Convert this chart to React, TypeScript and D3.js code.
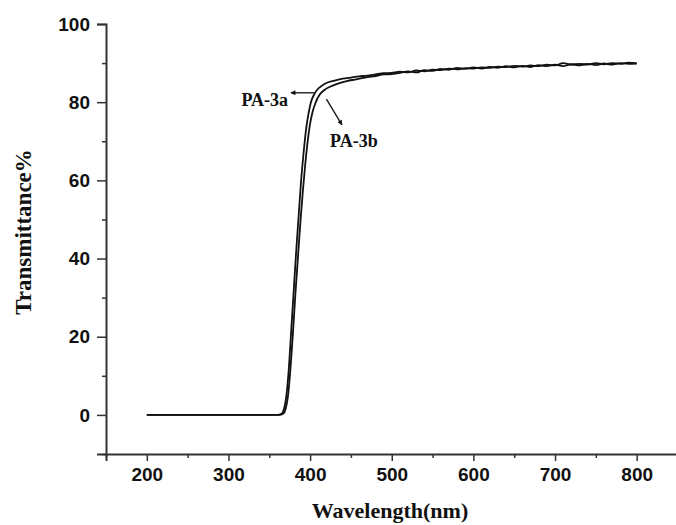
import React, { useEffect, useRef } from 'react';
import * as d3 from 'd3';

// wavelength (nm) for each series
const wlA = [200, 360, 365, 368, 371, 374, 377, 380, 383, 386, 389, 392, 395, 398, 401, 405, 410, 415, 420, 430, 440, 450, 460, 470, 480, 490, 500, 510, 520, 530, 540, 550, 560, 570, 580, 590, 600, 610, 620, 630, 640, 650, 660, 670, 680, 690, 700, 710, 720, 730, 740, 750, 760, 770, 780, 790, 800];
const tA = [0, 0, 0.3, 1.5, 5, 12, 22, 32, 42, 51, 60, 67, 73, 77, 80, 82, 83.5, 84.3, 84.9, 85.5, 86, 86.3, 86.6, 86.8, 87.1, 87.4, 87.5, 87.8, 87.6, 88.1, 87.9, 88.3, 88.2, 88.6, 88.4, 88.7, 88.6, 88.9, 88.8, 89.1, 89, 89.3, 89.1, 89.4, 89.2, 89.6, 89.4, 90, 89.6, 89.8, 89.6, 90, 89.7, 90, 89.8, 90.1, 89.9];

const wlB = [200, 362, 367, 370, 373, 376, 379, 382, 385, 388, 391, 394, 397, 400, 403, 407, 412, 418, 425, 435, 445, 455, 465, 470, 480, 490, 500, 510, 520, 530, 540, 550, 560, 570, 580, 590, 600, 610, 620, 630, 640, 650, 660, 670, 680, 690, 700, 710, 720, 730, 740, 750, 760, 770, 780, 790, 800];
const tB = [0, 0, 0.3, 1.5, 5, 12, 21, 31, 40, 49, 57, 64, 70, 74.5, 77.5, 80, 82, 83.2, 84, 84.8, 85.4, 85.8, 86.2, 86.4, 86.7, 87.1, 87.2, 87.5, 87.9, 87.6, 88.2, 88, 88.5, 88.3, 88.8, 88.5, 88.9, 88.6, 89, 88.8, 89.2, 88.9, 89.3, 89, 89.5, 89.2, 89.6, 89.2, 89.7, 89.4, 89.8, 89.5, 89.9, 89.6, 90, 89.8, 89.9];

const xMajor = [200, 300, 400, 500, 600, 700, 800];
const xMinor = [150, 250, 350, 450, 550, 650, 750];
const yMajor = [0, 20, 40, 60, 80, 100];
const yMinor = [-10, 10, 30, 50, 70, 90];

const App = () => {
  const ref = useRef<SVGSVGElement | null>(null);

  useEffect(() => {
    if (!ref.current) return;
    const svg = d3.select(ref.current);
    svg.selectAll('*').remove();

    const x = d3.scaleLinear().domain([150, 850]).range([106, 677.5]);
    const y = d3.scaleLinear().domain([-10, 100]).range([454, 24]);

    const defs = svg.append('defs');
    defs.append('marker').attr('id', 'arr').attr('viewBox', '0 0 10 10').attr('refX', 9).attr('refY', 5)
      .attr('markerWidth', 8).attr('markerHeight', 5).attr('markerUnits', 'userSpaceOnUse').attr('orient', 'auto')
      .append('path').attr('d', 'M0,0L10,5L0,10Z').attr('fill', '#111');

    const axisColor = '#333';
    const tickFont = 'Liberation Sans, Arial, sans-serif';

    // y axis
    const gy = svg.append('g').attr('transform', `translate(${x(150)},0)`);
    gy.call(d3.axisLeft(y).tickValues(yMajor).tickSize(9).tickPadding(7).tickFormat(d3.format('d')));
    gy.append('g').call(d3.axisLeft(y).tickValues(yMinor).tickSize(4).tickFormat(() => ''))
      .select('.domain').remove();
    gy.selectAll('.domain').attr('stroke', axisColor).attr('stroke-width', 2);
    gy.selectAll('line').attr('stroke', axisColor).attr('stroke-width', 1.5);
    gy.selectAll('text').attr('fill', '#111').style('font-family', tickFont).style('font-weight', 'bold').style('font-size', '19px');

    // x axis
    const gx = svg.append('g').attr('transform', `translate(0,${y(-10)})`);
    gx.call(d3.axisBottom(x).tickValues(xMajor).tickSize(7).tickPadding(7).tickFormat(d3.format('d')));
    gx.append('g').call(d3.axisBottom(x).tickValues(xMinor).tickSize(4).tickFormat(() => ''))
      .select('.domain').remove();
    gx.selectAll('.domain').attr('stroke', axisColor).attr('stroke-width', 2);
    gx.selectAll('line').attr('stroke', axisColor).attr('stroke-width', 1.5);
    gx.selectAll('text').attr('fill', '#111').style('font-family', tickFont).style('font-weight', 'bold').style('font-size', '19px');

    // curves
    const line = d3.line<[number, number]>().x(d => x(d[0])).y(d => y(d[1])).curve(d3.curveMonotoneX);
    const series = [d3.zip(wlA, tA), d3.zip(wlB, tB)] as [number, number][][];
    svg.append('g').selectAll('path').data(series).enter().append('path')
      .attr('d', d => line(d)).attr('fill', 'none').attr('stroke', '#111').attr('stroke-width', 1.8)
      .attr('stroke-linejoin', 'round');

    // annotations
    const serif = 'Liberation Serif, Times New Roman, serif';
    svg.append('line').attr('x1', x(405)).attr('y1', y(82.4)).attr('x2', x(376.5)).attr('y2', y(82.4))
      .attr('stroke', '#111').attr('stroke-width', 1.3).attr('marker-end', 'url(#arr)');
    svg.append('text').attr('x', x(373)).attr('y', y(79)).attr('text-anchor', 'end')
      .style('font-family', serif).style('font-weight', 'bold').style('font-size', '18px').attr('fill', '#111').text('PA-3a');
    svg.append('line').attr('x1', x(420)).attr('y1', y(80.8)).attr('x2', x(439)).attr('y2', y(74.2))
      .attr('stroke', '#111').attr('stroke-width', 1.3).attr('marker-end', 'url(#arr)');
    svg.append('text').attr('x', x(424.4)).attr('y', y(68.5))
      .style('font-family', serif).style('font-weight', 'bold').style('font-size', '18px').attr('fill', '#111').text('PA-3b');

    // axis titles
    svg.append('text').attr('x', 390).attr('y', 518).attr('text-anchor', 'middle')
      .style('font-family', serif).style('font-weight', 'bold').style('font-size', '22px').attr('fill', '#111')
      .text('Wavelength(nm)');
    svg.append('text').attr('transform', 'translate(31,232) rotate(-90)').attr('text-anchor', 'middle')
      .style('font-family', serif).style('font-weight', 'bold').style('font-size', '23px').attr('fill', '#111')
      .text('Transmittance%');
  }, []);

  return (
    <div style={{ position: 'absolute', left: 0, top: 0, width: 676, height: 525, background: '#fff' }}>
      <svg ref={ref} width={676} height={525} />
    </div>
  );
};

export default App;
